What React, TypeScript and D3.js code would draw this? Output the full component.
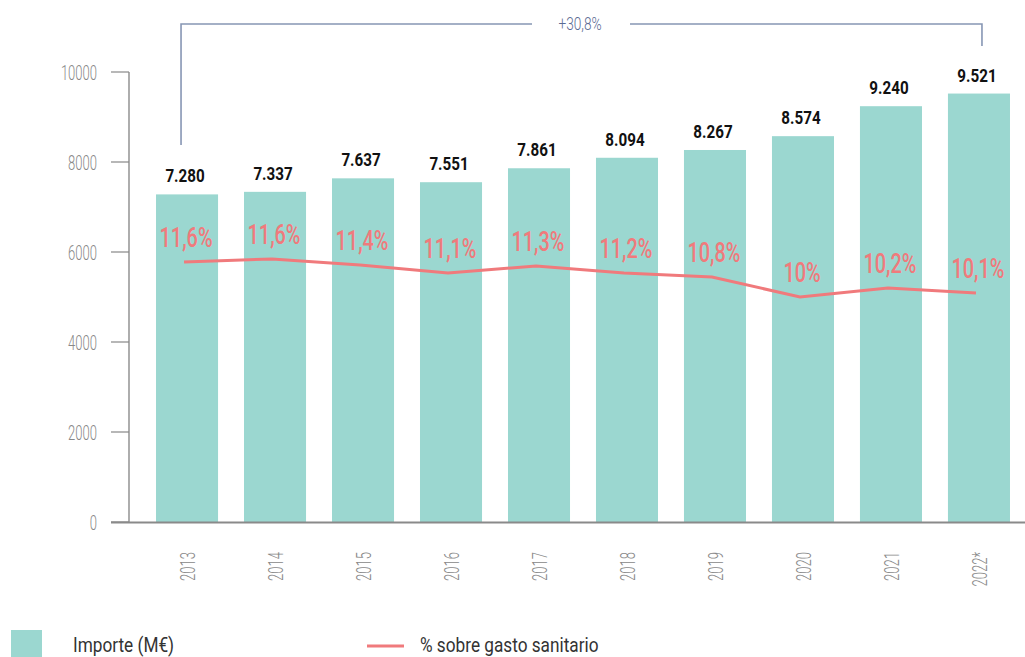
import { line, scaleBand, scaleLinear, select } from "d3";
import { FC, useEffect, useRef } from "react";

const years = ["2013", "2014", "2015", "2016", "2017", "2018", "2019", "2020", "2021", "2022*"];
const importe = [7280, 7337, 7637, 7551, 7861, 8094, 8267, 8574, 9240, 9521];
const importeLabels = ["7.280", "7.337", "7.637", "7.551", "7.861", "8.094", "8.267", "8.574", "9.240", "9.521"];
// line as drawn in the picture (labels are rounded)
const pct = [11.56, 11.69, 11.42, 11.07, 11.38, 11.07, 10.89, 10.0, 10.4, 10.18];
const pctLabels = ["11,6%", "11,6%", "11,4%", "11,1%", "11,3%", "11,2%", "10,8%", "10%", "10,2%", "10,1%"];
const yTicks = [0, 2000, 4000, 6000, 8000, 10000];
const growthLabel = "+30,8%";
const legendBar = "Importe (M€)";
const legendLine = "% sobre gasto sanitario";

const W = 1025;
const H = 657;
const FONT = "Roboto, 'Liberation Sans', sans-serif";

const BAR = "#9bd7d0";
const RED = "#f07a7c";
const BRACKET = "#8796b4";

const App: FC = () => {
  const svgRef = useRef<SVGSVGElement>(null);

  useEffect(() => {
    const svg = select(svgRef.current);
    svg.selectAll("*").remove();

    const x = scaleBand()
      .domain(years)
      .range([129, 1037])
      .paddingInner(0.295)
      .paddingOuter(0.307);
    const y = scaleLinear().domain([0, 10000]).range([522, 72]);
    const yPct = scaleLinear().domain([0, 20]).range([522, 72]);
    const cx = (d: string) => x(d)! + x.bandwidth() / 2;

    // squeezed text helper (reference font is very condensed)
    const txt = (
      g: any,
      s: string,
      tx: number,
      ty: number,
      size: number,
      sx: number,
      anchor: string,
      fill: string,
      weight = 400,
      rot = 0
    ) =>
      g
        .append("text")
        .attr("transform", `translate(${tx},${ty}) rotate(${rot}) scale(${sx},1)`)
        .attr("text-anchor", anchor)
        .attr("font-family", FONT)
        .attr("font-size", size)
        .attr("font-weight", weight)
        .attr("fill", fill)
        .text(s);

    // bars
    svg
      .append("g")
      .selectAll("rect")
      .data(importe)
      .join("rect")
      .attr("x", (_, i) => x(years[i])!)
      .attr("y", d => y(d))
      .attr("width", x.bandwidth())
      .attr("height", d => y(0) - y(d))
      .attr("fill", BAR);

    // y axis
    const ax = svg.append("g");
    ax.append("line")
      .attr("x1", 129).attr("x2", 129)
      .attr("y1", y(10000)).attr("y2", y(0))
      .attr("stroke", "#777").attr("stroke-width", 1.2);
    yTicks.forEach(t => {
      ax.append("line")
        .attr("x1", 111).attr("x2", 129)
        .attr("y1", y(t)).attr("y2", y(t))
        .attr("stroke", "#888").attr("stroke-width", 1.2);
      txt(ax, String(t), 97, y(t) + 8, 21, 0.62, "end", "#888", 300);
    });

    // x axis
    ax.append("line")
      .attr("x1", 111).attr("x2", W)
      .attr("y1", y(0) + 0.5).attr("y2", y(0) + 0.5)
      .attr("stroke", "#8a8a8a").attr("stroke-width", 2);
    years.forEach(d => {
      txt(ax, d, cx(d) + 8, 552, 21, 0.62, "end", "#888", 300, -90);
    });

    // value labels
    importe.forEach((v, i) => {
      txt(svg, importeLabels[i], cx(years[i]) - 2, y(v) - 12, 19, 0.8, "middle", "#111", 700);
    });

    // percentage line
    const path = line<number>()
      .x((_, i) => cx(years[i]) - 3)
      .y(d => yPct(d));
    svg.append("path")
      .datum(pct)
      .attr("d", path)
      .attr("fill", "none")
      .attr("stroke", RED)
      .attr("stroke-width", 3);

    pct.forEach((v, i) => {
      txt(svg, pctLabels[i], cx(years[i]) - 1, yPct(v) - 15, 28, 0.71, "middle", RED, 500);
    });

    // growth bracket
    const bx1 = cx(years[0]) - 6;
    const bx2 = cx(years[years.length - 1]) + 3;
    const by = 24;
    const mid = 580;
    const br = svg.append("g").attr("fill", "none").attr("stroke", BRACKET).attr("stroke-width", 1.6);
    br.append("path").attr("d", `M${bx1},145 V${by} H${mid - 48}`);
    br.append("path").attr("d", `M${mid + 50},${by} H${bx2} V46`);
    txt(svg, growthLabel, mid, 30, 18, 0.76, "middle", "#5a6a92", 300);

    // legend
    const lg = svg.append("g");
    lg.append("rect").attr("x", 11).attr("y", 630).attr("width", 31).attr("height", 27).attr("fill", BAR);
    txt(lg, legendBar, 73, 652, 21, 0.82, "start", "#333", 400);
    lg.append("line")
      .attr("x1", 367).attr("x2", 404)
      .attr("y1", 646).attr("y2", 646)
      .attr("stroke", RED).attr("stroke-width", 3);
    txt(lg, legendLine, 420, 652, 21, 0.82, "start", "#333", 400);
  }, []);

  return (
    <svg
      ref={svgRef}
      width={W}
      height={H}
      style={{ position: "absolute", left: 0, top: 0, background: "#fff" }}
    />
  );
};

export default App;
